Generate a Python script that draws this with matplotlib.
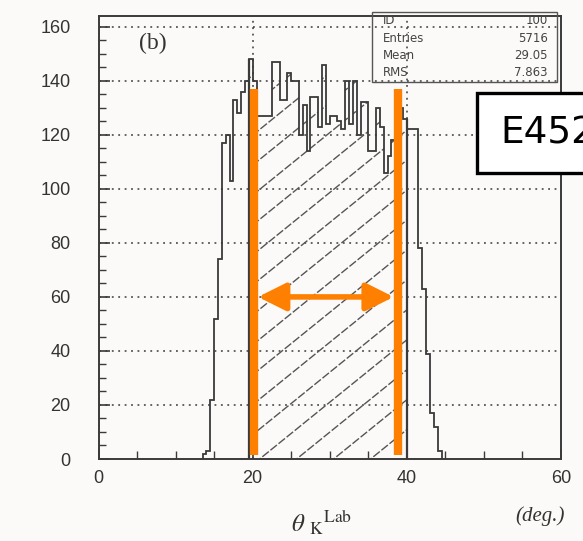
import numpy as np
import matplotlib.pyplot as plt
from matplotlib.patches import Rectangle

# histogram: 0.5 deg bins starting at 13.5 deg
bin_start = 13.5
bin_width = 0.5
counts = [2, 3, 22, 52, 74, 117, 120, 103, 133, 128, 136, 140, 148, 140,
          127, 127, 127, 127, 147, 147, 133, 133, 143, 140, 140, 120, 131, 114,
          134, 134, 123, 146, 124, 127, 127, 125, 122, 140, 124, 140, 120, 132,
          132, 114, 114, 130, 123, 106, 112, 118, 126, 130, 126, 122, 122, 122,
          78, 63, 39, 17, 12, 3]
# hatched (selected) part of the histogram
cut_lo, cut_hi = 19.5, 40.0
# orange markers
marker_lo, marker_hi = 20.2, 38.85
marker_top = 137
arrow_y = 60

stat_names = ['ID', 'Entries', 'Mean', 'RMS']
stat_values = ['100', '5716', '29.05', '7.863']

x_ticks = [0, 20, 40, 60]
y_ticks = [0, 20, 40, 60, 80, 100, 120, 140, 160]

edges = bin_start + bin_width * np.arange(len(counts) + 1)
counts = np.array(counts)

ink = '#3a3a3a'
paper = '#fbfaf8'
orange = '#ff7f00'

plt.rcParams['mathtext.fontset'] = 'stix'
fig = plt.figure(figsize=(5.83, 5.41), dpi=100, facecolor=paper)
ax = fig.add_axes([98.5 / 583, 1 - 459 / 541, (561 - 98.5) / 583, (459 - 16) / 541])
ax.set_facecolor(paper)
ax.set_xlim(0, 60)
ax.set_ylim(0, 164)

# dotted grid
for yv in y_ticks[1:]:
    ax.axhline(yv, color=ink, lw=1.1, ls=(0, (1.2, 3)), zorder=1)
for xv in x_ticks[1:-1]:
    ax.axvline(xv, color=ink, lw=1.1, ls=(0, (1.2, 3)), zorder=1)

# main histogram
ax.stairs(counts, edges, color=ink, lw=1.3, zorder=3)

# hatched cut region
sel = (edges[:-1] >= cut_lo) & (edges[1:] <= cut_hi + 1e-9)
cut_counts = counts[sel]
cut_edges = np.append(edges[:-1][sel], edges[1:][sel][-1])
cut_patch = ax.stairs(cut_counts, cut_edges, fill=True, facecolor='none',
                      edgecolor='none', zorder=2)
ax.vlines([cut_lo, cut_hi], 0, [cut_counts[0], cut_counts[-1]], color=ink,
          lw=1.6, zorder=3)
slope = 2.31
spacing = 4.8
xs = np.array([0, 60])
for x0 in np.arange(20.9 - 14 * spacing, cut_hi, spacing):
    ln, = ax.plot(xs, slope * (xs - x0), color='#555555', lw=1.0,
                  ls=(0, (6, 1.5)), zorder=2)
    ln.set_clip_path(cut_patch)

# ticks
ax.set_xticks(x_ticks)
ax.set_xticks(np.arange(0, 61, 5), minor=True)
ax.set_yticks(y_ticks)
ax.set_yticks(np.arange(0, 161, 5), minor=True)
ax.tick_params(axis='both', which='both', direction='in', colors=ink,
               labelcolor='#333333', labelsize=13)
ax.tick_params(axis='y', which='major', length=8, width=1.2, pad=20)
ax.tick_params(axis='y', which='minor', length=5, width=1.0)
ax.tick_params(axis='x', which='major', length=7, width=1.2, pad=8)
ax.tick_params(axis='x', which='minor', length=6, width=1.0)
for lab in ax.get_xticklabels() + ax.get_yticklabels():
    lab.set_family('Liberation Sans')
for sp in ax.spines.values():
    sp.set_color(ink)
    sp.set_linewidth(1.4)

# (b) label
ax.text(7.1, 153.7, '(b)', ha='center', va='center', fontsize=17,
        family='Liberation Serif', color='#333333')

# stats box
ax.add_patch(Rectangle((35.5, 139.6), 24, 25.9, fill=False, edgecolor='#555555',
                       lw=1.0, clip_on=False, zorder=4))
for i, (nm, val) in enumerate(zip(stat_names, stat_values)):
    yy = 162.2 - i * 6.4
    ax.text(36.9, yy, nm, ha='left', va='center', fontsize=8.5, color='#444444',
            clip_on=False)
    ax.text(58.3, yy, val, ha='right', va='center', fontsize=8.5, color='#444444',
            clip_on=False)

# orange markers
ax.vlines([marker_lo, marker_hi], 1.5, marker_top, color=orange, lw=6, zorder=5)
ax.annotate('', xy=(marker_hi - 0.55, arrow_y), xytext=(marker_lo + 0.5, arrow_y),
            arrowprops=dict(arrowstyle='<|-|>', color=orange, lw=4,
                            mutation_scale=42, shrinkA=0, shrinkB=0), zorder=6)

# E452 box (cut by the right edge, as in the reference)
fig.patches.append(Rectangle((477 / 583, 1 - 173 / 541), 0.4, 80 / 541,
                             transform=fig.transFigure, facecolor='white',
                             edgecolor='black', lw=2.4))
fig.text(500 / 583, 1 - 134 / 541, 'E452', ha='left', va='center', fontsize=27,
         color='black')

# axis labels
fig.text(322 / 583, 1 - 522 / 541, r'$\theta\ {}_{\mathrm{K}}{}^{\mathrm{Lab}}$',
         ha='center', va='center', fontsize=18, color='#333333')
fig.text(565 / 583, 1 - 516 / 541, '(deg.)', ha='right', va='center', fontsize=15,
         family='Liberation Serif', style='italic', color='#333333')

fig.savefig('out.png', dpi=100, facecolor=paper)
